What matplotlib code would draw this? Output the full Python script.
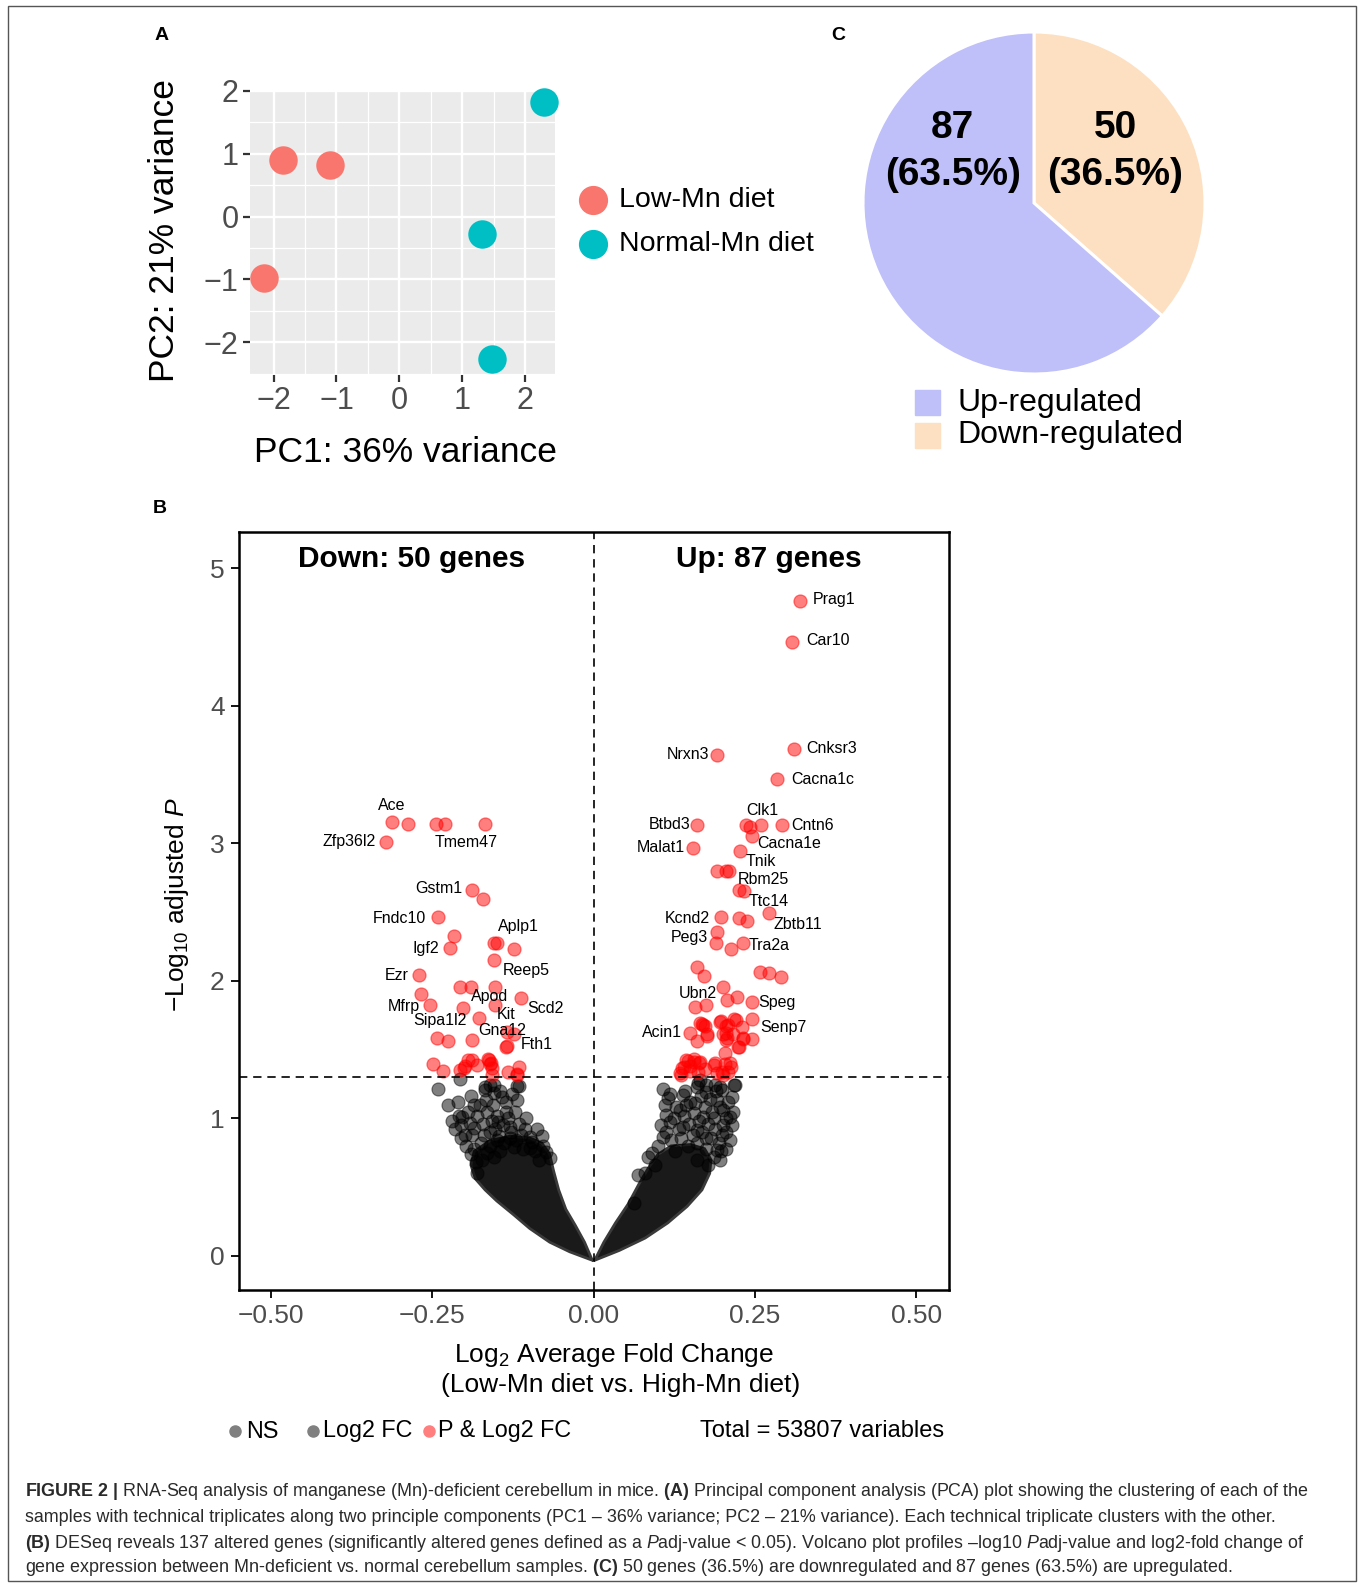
import math
import matplotlib
matplotlib.use("Agg")
import matplotlib.pyplot as plt
import matplotlib.ticker as mticker
from matplotlib import font_manager
from matplotlib.patches import Rectangle
from matplotlib.lines import Line2D

# ---------------- data ----------------
# A: PCA
pc1_low = [-1.85, -1.10, -2.15]
pc2_low = [0.90, 0.82, -0.97]
pc1_norm = [2.30, 1.32, 1.48]
pc2_norm = [1.83, -0.28, -2.27]
groups = ["Low-Mn diet", "Normal-Mn diet"]

# C: pie
pie_counts = [50, 87]          # down, up
pie_pct = ["36.5%", "63.5%"]
pie_legend = ["Up-regulated", "Down-regulated"]

# B: volcano, significant genes (red)
down_x = [-0.312, -0.288, -0.244, -0.230, -0.168, -0.322, -0.188, -0.171, -0.241, -0.216,
          -0.223, -0.154, -0.149, -0.124, -0.154, -0.271, -0.207, -0.190, -0.152, -0.268,
          -0.254, -0.202, -0.153, -0.113, -0.177, -0.134, -0.123, -0.243, -0.225, -0.189,
          -0.135, -0.134, -0.248, -0.234, -0.207, -0.199, -0.189, -0.180, -0.162, -0.161,
          -0.158, -0.132, -0.115, -0.119, -0.201, -0.194, -0.163, -0.159, -0.158, -0.119]
down_y = [3.158, 3.139, 3.139, 3.139, 3.139, 3.013, 2.661, 2.596, 2.462, 2.329,
          2.237, 2.274, 2.274, 2.230, 2.150, 2.041, 1.956, 1.956, 1.958, 1.903,
          1.825, 1.805, 1.822, 1.873, 1.728, 1.626, 1.614, 1.582, 1.565, 1.570,
          1.521, 1.530, 1.396, 1.347, 1.352, 1.381, 1.425, 1.389, 1.425, 1.396,
          1.316, 1.340, 1.376, 1.316, 1.364, 1.425, 1.430, 1.401, 1.364, 1.323]
up_x = [0.320, 0.307, 0.311, 0.192, 0.284, 0.161, 0.236, 0.243, 0.259, 0.292,
        0.246, 0.154, 0.227, 0.191, 0.205, 0.210, 0.226, 0.233, 0.197, 0.226,
        0.238, 0.272, 0.191, 0.189, 0.213, 0.231, 0.160, 0.171, 0.258, 0.272,
        0.290, 0.200, 0.207, 0.223, 0.245, 0.157, 0.175, 0.150, 0.165, 0.173,
        0.176, 0.160, 0.196, 0.206, 0.218, 0.230, 0.246, 0.201, 0.206, 0.216,
        0.231, 0.245, 0.226, 0.204, 0.144, 0.156, 0.165, 0.137, 0.135, 0.150,
        0.188, 0.211, 0.209, 0.191, 0.201, 0.173, 0.147, 0.155, 0.164, 0.140,
        0.149, 0.186, 0.204, 0.213, 0.199, 0.134, 0.162, 0.168, 0.170, 0.176,
        0.198, 0.208, 0.220, 0.205, 0.207, 0.232, 0.224]
up_y = [4.763, 4.467, 3.687, 3.643, 3.466, 3.134, 3.134, 3.122, 3.134, 3.134,
        3.054, 2.969, 2.947, 2.799, 2.799, 2.799, 2.661, 2.656, 2.462, 2.455,
        2.438, 2.492, 2.358, 2.278, 2.234, 2.273, 2.103, 2.036, 2.065, 2.060,
        2.031, 1.958, 1.861, 1.885, 1.849, 1.808, 1.825, 1.619, 1.692, 1.672,
        1.614, 1.563, 1.703, 1.672, 1.721, 1.667, 1.721, 1.614, 1.570, 1.614,
        1.575, 1.575, 1.521, 1.478, 1.425, 1.413, 1.413, 1.364, 1.316, 1.347,
        1.401, 1.401, 1.340, 1.328, 1.316, 1.357, 1.420, 1.430, 1.405, 1.372,
        1.380, 1.389, 1.396, 1.376, 1.340, 1.330, 1.340, 1.688, 1.680, 1.599,
        1.711, 1.679, 1.716, 1.619, 1.583, 1.583, 1.521]

# non-significant genes lying outside the saturated core
ns_left_x = [-0.241, -0.210, -0.208, -0.204, -0.186, -0.168, -0.166, -0.161, -0.155, -0.148,
             -0.142, -0.135, -0.130, -0.118, -0.118, -0.199, -0.189, -0.186, -0.161, -0.150,
             -0.130, -0.099, -0.080, -0.073, -0.068, -0.173, -0.181, -0.155, -0.099, -0.124,
             -0.207, -0.168, -0.155, -0.115,
             -0.225, -0.220, -0.215, -0.205, -0.195, -0.192, -0.190, -0.185, -0.180, -0.176,
             -0.175, -0.172, -0.170, -0.165, -0.160, -0.158, -0.156, -0.152, -0.150, -0.146,
             -0.145, -0.140, -0.138, -0.136, -0.133, -0.128, -0.126, -0.122, -0.120, -0.116,
             -0.112, -0.110, -0.106, -0.104, -0.095, -0.090, -0.088, -0.085, -0.078, -0.190,
             -0.198, -0.205, -0.182, -0.165, -0.145]
ns_left_y = [1.212, 1.122, 1.018, 1.008, 1.098, 1.207, 1.134, 1.243, 1.182, 0.977,
             1.158, 1.049, 0.940, 1.236, 1.134, 0.880, 0.880, 0.775, 0.904, 0.843,
             0.855, 0.868, 0.872, 0.758, 0.710, 0.698, 0.601, 0.722, 0.782, 0.795,
             1.290, 1.230, 1.243, 1.236,
             1.100, 0.980, 0.920, 0.950, 1.050, 0.970, 1.160, 0.930, 1.020, 1.100,
             0.820, 0.960, 0.880, 1.050, 0.800, 0.980, 1.100, 0.920, 1.020, 0.870,
             1.200, 0.950, 0.820, 1.120, 1.000, 0.900, 1.180, 1.050, 0.840, 0.960,
             0.880, 0.780, 0.920, 1.000, 0.830, 0.760, 0.920, 0.700, 0.800, 0.740,
             0.800, 0.860, 0.680, 0.750, 0.760]
ns_right_x = [0.108, 0.116, 0.139, 0.144, 0.160, 0.165, 0.175, 0.188, 0.199, 0.191,
              0.214, 0.218, 0.201, 0.211, 0.113, 0.118, 0.134, 0.157, 0.170, 0.183,
              0.108, 0.139, 0.160, 0.175, 0.199, 0.191, 0.196, 0.085, 0.080, 0.069,
              0.062, 0.160, 0.201, 0.162, 0.175, 0.196, 0.219,
              0.100, 0.104, 0.110, 0.112, 0.118, 0.120, 0.124, 0.126, 0.128, 0.132,
              0.136, 0.140, 0.142, 0.146, 0.148, 0.150, 0.154, 0.156, 0.160, 0.163,
              0.166, 0.168, 0.172, 0.174, 0.178, 0.180, 0.182, 0.186, 0.188, 0.190,
              0.194, 0.196, 0.198, 0.205, 0.208, 0.206, 0.212, 0.216, 0.215, 0.095,
              0.090, 0.186, 0.178, 0.205]
ns_right_y = [1.212, 1.146, 1.170, 1.098, 1.231, 1.279, 1.195, 1.243, 1.207, 1.134,
              1.158, 1.243, 1.061, 1.013, 1.025, 0.977, 1.061, 1.110, 1.013, 1.049,
              0.868, 0.940, 0.916, 0.855, 0.880, 0.770, 0.698, 0.722, 0.601, 0.588,
              0.382, 0.698, 0.952, 1.255, 1.243, 1.230, 1.243,
              0.800, 0.950, 1.100, 0.900, 1.180, 0.840, 1.000, 0.760, 1.080, 0.920,
              0.860, 1.020, 1.200, 0.800, 0.960, 1.120, 0.880, 1.040, 0.820, 0.980,
              1.160, 0.900, 1.080, 0.780, 0.960, 1.140, 0.860, 1.000, 0.920, 1.200,
              0.820, 1.080, 0.760, 0.900, 1.120, 1.000, 0.840, 1.050, 0.950, 0.660,
              0.750, 0.720, 0.660, 0.780]

# outline of the saturated (solid black) core of each wing
core_left_x = [-0.003, -0.014, -0.028, -0.043, -0.054, -0.062, -0.068, -0.080, -0.100, -0.130,
               -0.160, -0.185, -0.190, -0.183, -0.168, -0.150, -0.124, -0.099, -0.068, -0.037, 0.0]
core_left_y = [-0.02, 0.10, 0.22, 0.34, 0.48, 0.62, 0.74, 0.82, 0.86, 0.87,
               0.84, 0.76, 0.66, 0.56, 0.48, 0.40, 0.30, 0.20, 0.10, 0.03, -0.035]
core_right_x = [0.003, 0.016, 0.034, 0.054, 0.070, 0.085, 0.100, 0.120, 0.150, 0.172,
                0.182, 0.180, 0.168, 0.145, 0.115, 0.080, 0.040, 0.0]
core_right_y = [-0.02, 0.10, 0.24, 0.38, 0.52, 0.64, 0.74, 0.80, 0.81, 0.78,
                0.70, 0.60, 0.48, 0.36, 0.24, 0.13, 0.04, -0.035]

gene_labels = [
    ("Ace", -0.312, 3.279, "center"), ("Zfp36l2", -0.337, 3.013, "right"),
    ("Tmem47", -0.197, 3.008, "center"), ("Gstm1", -0.204, 2.673, "right"),
    ("Fndc10", -0.259, 2.455, "right"), ("Aplp1", -0.148, 2.394, "left"),
    ("Igf2", -0.239, 2.237, "right"), ("Reep5", -0.140, 2.079, "left"),
    ("Ezr", -0.286, 2.041, "right"), ("Apod", -0.161, 1.885, "center"),
    ("Mfrp", -0.269, 1.813, "right"), ("Scd2", -0.102, 1.800, "left"),
    ("Sipa1l2", -0.238, 1.711, "center"), ("Kit", -0.136, 1.752, "center"),
    ("Gna12", -0.142, 1.638, "center"), ("Fth1", -0.113, 1.541, "left"),
    ("Prag1", 0.339, 4.770, "left"), ("Car10", 0.329, 4.472, "left"),
    ("Cnksr3", 0.329, 3.692, "left"), ("Nrxn3", 0.179, 3.648, "right"),
    ("Cacna1c", 0.307, 3.466, "left"), ("Btbd3", 0.150, 3.134, "right"),
    ("Clk1", 0.262, 3.238, "center"), ("Cntn6", 0.307, 3.127, "left"),
    ("Cacna1e", 0.253, 2.996, "left"), ("Malat1", 0.142, 2.969, "right"),
    ("Tnik", 0.236, 2.867, "left"), ("Rbm25", 0.224, 2.734, "left"),
    ("Ttc14", 0.241, 2.576, "left"), ("Kcnd2", 0.180, 2.455, "right"),
    ("Zbtb11", 0.279, 2.407, "left"), ("Peg3", 0.178, 2.317, "right"),
    ("Tra2a", 0.241, 2.254, "left"), ("Ubn2", 0.191, 1.910, "right"),
    ("Speg", 0.255, 1.842, "left"), ("Senp7", 0.258, 1.663, "left"),
    ("Acin1", 0.137, 1.623, "right"),
]
padj_cut = 0.05
n_total = 53807
vx_ticks = [-0.50, -0.25, 0.00, 0.25, 0.50]
vy_ticks = [0, 1, 2, 3, 4, 5]
legend_items = ["NS", "Log2 FC", "P & Log2 FC"]

caption = [
    r"$\mathbf{FIGURE\ 2\ |}$ RNA-Seq analysis of manganese (Mn)-deficient cerebellum in mice. "
    r"$\mathbf{(A)}$ Principal component analysis (PCA) plot showing the clustering of each of the",
    "samples with technical triplicates along two principle components (PC1 \u2013 36% variance; "
    "PC2 \u2013 21% variance). Each technical triplicate clusters with the other.",
    r"$\mathbf{(B)}$ DESeq reveals 137 altered genes (significantly altered genes defined as a "
    r"$\mathit{P}$adj-value < 0.05). Volcano plot profiles " "\u2013" r"log10 $\mathit{P}$adj-value "
    "and log2-fold change of",
    r"gene expression between Mn-deficient vs. normal cerebellum samples. $\mathbf{(C)}$ 50 genes "
    "(36.5%) are downregulated and 87 genes (63.5%) are upregulated.",
]

# ---------------- style ----------------
W, H = 1360, 1585
names = {f.name for f in font_manager.fontManager.ttflist}
SANS = "Liberation Sans" if "Liberation Sans" in names else "DejaVu Sans"
plt.rcParams["font.family"] = [SANS, "DejaVu Sans"]
plt.rcParams["mathtext.fontset"] = "custom"
plt.rcParams["mathtext.rm"] = SANS
plt.rcParams["mathtext.it"] = SANS + ":italic"
plt.rcParams["mathtext.bf"] = SANS + ":bold"
plt.rcParams["axes.unicode_minus"] = True

C_LOW, C_NORM = "#F8766D", "#00BFC4"
C_UP, C_DOWN = "#BFBFF9", "#FDE0C2"
TICKGREY = "#4D4D4D"


def box(l, t, r, b):
    return [l / W, 1 - b / H, (r - l) / W, (b - t) / H]


def fx(px):
    return px / W


def fy(py):
    return 1 - py / H


fig = plt.figure(figsize=(W / 100, H / 100), dpi=100)

# frame round the figure
fig.add_artist(Rectangle((fx(8), fy(1581)), (1356 - 8) / W, (1581 - 6) / H, fill=False,
                         ec="#555555", lw=1.0, transform=fig.transFigure))

# panel letters
for lab, px, py in [("A", 161.8, 35.4), ("B", 159.8, 508.6), ("C", 838.3, 35.4)]:
    fig.text(fx(px), fy(py), lab, fontsize=14, fontweight="bold", ha="center", va="center")

# ---------------- A: PCA ----------------
axA = fig.add_axes(box(249.8, 91, 555.1, 375))
axA.set_facecolor("#EBEBEB")
axA.set_xlim(-2.38, 2.48)
axA.set_ylim(-2.52, 2.0)
axA.set_xticks([-2, -1, 0, 1, 2])
axA.set_yticks([-2, -1, 0, 1, 2])
axA.set_xticks([-1.5, -0.5, 0.5, 1.5], minor=True)
axA.set_yticks([-2.5, -1.5, -0.5, 0.5, 1.5], minor=True)
axA.grid(which="major", color="white", lw=1.7)
axA.grid(which="minor", color="white", lw=0.9)
axA.set_axisbelow(True)
for s in axA.spines.values():
    s.set_visible(False)
axA.tick_params(which="major", direction="out", length=5, width=1.6, color="#333333",
                labelsize=22, labelcolor=TICKGREY, pad=3)
axA.tick_params(which="minor", length=0)
axA.scatter(pc1_low, pc2_low, s=420, color=C_LOW, lw=0, zorder=3, clip_on=False)
axA.scatter(pc1_norm, pc2_norm, s=420, color=C_NORM, lw=0, zorder=3, clip_on=False)
fig.text(fx(405.5), fy(452), "PC1: 36% variance", fontsize=25.5, ha="center", va="center")
fig.text(fx(164.8), fy(230.6), "PC2: 21% variance", fontsize=25.5, ha="center", va="center",
         rotation=90)
for g, col, py in [(groups[0], C_LOW, 200.2), (groups[1], C_NORM, 243.7)]:
    fig.add_artist(Line2D([fx(592.6)], [fy(py)], marker="o", ms=20, color=col, lw=0,
                          transform=fig.transFigure))
    fig.text(fx(618.9), fy(py), g, fontsize=20.5, ha="left", va="center")

# ---------------- C: pie ----------------
cx, cy, r = 1034, 203, 171
axC = fig.add_axes(box(cx - r, cy - r, cx + r, cy + r))
axC.pie(pie_counts, colors=[C_DOWN, C_UP], startangle=90, counterclock=False,
        wedgeprops=dict(edgecolor="white", linewidth=2.2))
axC.set_xlim(-1, 1)
axC.set_ylim(-1, 1)
axC.set_aspect("equal")
axC.axis("off")
for n, pct, xx in [(pie_counts[1], pie_pct[1], -0.476), (pie_counts[0], pie_pct[0], 0.476)]:
    axC.text(xx, 0.44, f"{n}", fontsize=28, fontweight="bold", ha="center", va="center")
    axC.text(xx, 0.165, f"({pct})", fontsize=28, fontweight="bold", ha="center", va="center")
for lab, col, py in [(pie_legend[0], C_UP, 402.5), (pie_legend[1], C_DOWN, 435)]:
    fig.add_artist(Rectangle((fx(915), fy(py + 12.5)), 25 / W, 25 / H, color=col,
                             transform=fig.transFigure))
    fig.text(fx(957.6), fy(py), lab, fontsize=23, ha="left", va="center")

# ---------------- B: volcano ----------------
axB = fig.add_axes(box(238.6, 531.9, 948.5, 1290.3))
axB.set_xlim(-0.55, 0.55)
axB.set_ylim(-0.25, 5.265)
axB.fill(core_left_x, core_left_y, color="#1A1A1A", ec="#3A3A3A", lw=2.0, zorder=1)
axB.fill(core_right_x, core_right_y, color="#1A1A1A", ec="#3A3A3A", lw=2.0, zorder=1)
axB.scatter(ns_left_x + ns_right_x, ns_left_y + ns_right_y, s=88, color="black", alpha=0.5,
            lw=0.8, zorder=2)
axB.scatter(down_x, down_y, s=88, color="red", alpha=0.5, lw=0.9, zorder=3)
axB.scatter(up_x, up_y, s=88, color="red", alpha=0.5, lw=0.9, zorder=3)
axB.axhline(-math.log10(padj_cut), color="black", lw=1.2, ls=(0, (5, 3.5)), zorder=4)
axB.axvline(0, color="black", lw=1.2, ls=(0, (5, 3.5)), zorder=4)
for name, tx, ty, ha in gene_labels:
    axB.text(tx, ty, name, fontsize=11.5, ha=ha, va="center", zorder=5)
axB.text(-0.282, 5.07, f"Down: {len(down_x)} genes", fontsize=21.5, fontweight="bold",
         ha="center", va="center")
axB.text(0.271, 5.07, f"Up: {len(up_x)} genes", fontsize=21.5, fontweight="bold",
         ha="center", va="center")
axB.set_xticks(vx_ticks)
axB.set_yticks(vy_ticks)
axB.xaxis.set_major_formatter(mticker.FuncFormatter(lambda v, p: f"{v:.2f}".replace("-", "\u2212")))
for s in axB.spines.values():
    s.set_linewidth(1.8)
axB.tick_params(direction="out", length=6, width=1.3, color="black", labelsize=19,
                labelcolor=TICKGREY, pad=4)
fig.text(fx(177), fy(905), r"$-$Log$_{10}$ adjusted $\mathit{P}$", fontsize=19,
         ha="center", va="center", rotation=90)
fig.text(fx(613.8), fy(1355), r"Log$_{2}$ Average Fold Change", fontsize=19,
         ha="center", va="center")
fig.text(fx(621), fy(1385.3), "(Low-Mn diet vs. High-Mn diet)", fontsize=19,
         ha="center", va="center")
# legend row
for lab, dx, tx, col in [(legend_items[0], 234.6, 245.7, "#808080"),
                         (legend_items[1], 312.5, 322.6, "#808080"),
                         (legend_items[2], 428.7, 437.8, "#FF7F7F")]:
    fig.add_artist(Line2D([fx(dx)], [fy(1431)], marker="o", ms=8, color=col, lw=0,
                          transform=fig.transFigure))
    fig.text(fx(tx), fy(1431), lab, fontsize=16.8, ha="left", va="center")
fig.text(fx(944.5), fy(1431), f"Total = {n_total} variables", fontsize=17, ha="right",
         va="center")

# ---------------- caption ----------------
for line, py in zip(caption, [1492, 1517, 1543, 1568]):
    fig.text(fx(25.3), fy(py), line, fontsize=12.9, color="#2A2A2A", ha="left", va="center")

fig.savefig("out.png", dpi=100)
